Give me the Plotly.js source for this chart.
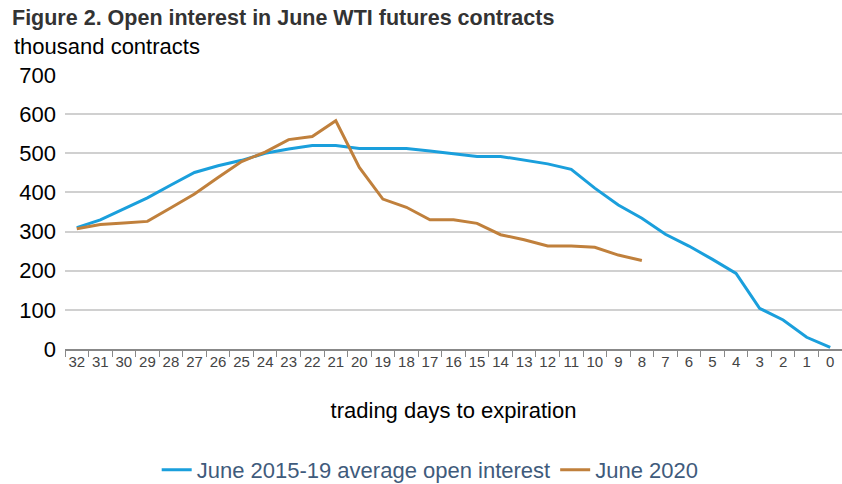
<!DOCTYPE html>
<html><head><meta charset="utf-8">
<script src="https://cdn.plot.ly/plotly-3.0.1.min.js"></script>
<style>body{margin:0;background:#fff}#c{width:842px;height:484px}</style>
</head><body><div id="c"></div>
<script>
const days = ["32","31","30","29","28","27","26","25","24","23","22","21","20","19","18","17","16","15","14","13","12","11","10","9","8","7","6","5","4","3","2","1","0"];
const avg2015_19 = [310,330,358,386,419,451,468,482,500,511,520,520,512,512,512,506,499,492,492,483,473,459,411,368,334,293,263,229,193,104,74,30,4];
const june2020 = [307,318,322,326,361,396,438,479,503,535,543,583,464,383,362,330,330,321,292,279,263,263,260,240,226];
const yTicks = [0,100,200,300,400,500,600,700];

const traces = [
  {x: days, y: avg2015_19, type: "scatter", mode: "lines", name: "June 2015-19 average open interest",
   line: {color: "#1a9fdc", width: 3}},
  {x: days.slice(0, june2020.length), y: june2020, type: "scatter", mode: "lines", name: "June 2020",
   line: {color: "#c0803c", width: 3}}
];
const layout = {
  width: 842, height: 484,
  margin: {l: 65, r: 0, t: 75, b: 135},
  paper_bgcolor: "#fff", plot_bgcolor: "#fff",
  font: {family: "Liberation Sans, Arial, sans-serif", color: "#000"},
  title: {text: "<b>Figure 2. Open interest in June WTI futures contracts</b>", x: 12/842, xanchor: "left", xref: "container",
          y: 1 - 17/484, yanchor: "middle", yref: "container", font: {size: 21.5, color: "#333"}},
  xaxis: {type: "category", categoryorder: "array", categoryarray: days, automargin: false,
          showgrid: false, showline: true, linecolor: "#888", linewidth: 1.5,
          ticks: "outside", tickson: "boundaries", ticklen: 6, tickcolor: "#888", tickwidth: 1,
          ticklabelstandoff: -2,
          tickfont: {size: 15, family: "Liberation Sans Narrow, Liberation Sans, Arial", color: "#444"},
          tickangle: 0, range: [-0.5, 32.5],
          title: {text: "trading days to expiration", font: {size: 22, color: "#000"}, standoff: 34}},
  yaxis: {range: [0, 700], tickvals: yTicks, showgrid: true, gridcolor: "#d0d0d0", gridwidth: 1.5, automargin: false,
          zeroline: false, showline: false, ticks: "", ticklabelstandoff: 8,
          tickfont: {size: 22, color: "#000"}},
  annotations: [{text: "thousand contracts", xref: "paper", yref: "paper", x: (12-65)/777, y: 1 + (75-47)/274,
                 xanchor: "left", yanchor: "middle", showarrow: false, font: {size: 22, color: "#000"}}],
  legend: {orientation: "h", x: 0.47, xanchor: "center", yref: "container", y: 1 - 470/484, yanchor: "middle",
           font: {size: 22, color: "#3f5b7c"}, itemwidth: 30, tracegroupgap: 0},
  showlegend: true
};
Plotly.newPlot("c", traces, layout, {displayModeBar: false});
</script></body></html>
